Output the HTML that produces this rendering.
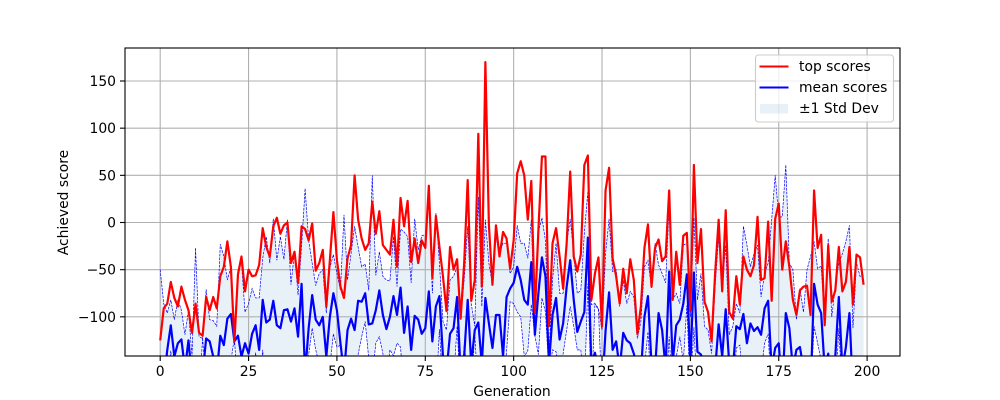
<!DOCTYPE html>
<html>
<head>
<meta charset="utf-8">
<style>
html,body{margin:0;padding:0;background:#fff;width:1000px;height:400px;overflow:hidden;}
svg{display:block;}
text{font-family:"DejaVu Sans","Liberation Sans",sans-serif;font-size:13.9px;fill:#000;}
</style>
</head>
<body>
<svg id="chart" width="1000" height="400" viewBox="0 0 1000 400" xmlns="http://www.w3.org/2000/svg">
<defs><clipPath id="plot-clip"><rect x="125" y="48" width="775" height="308"></rect></clipPath></defs>
<g id="fill-layer" clip-path="url(#plot-clip)"></g>
<g id="grid-layer"></g>
<g id="line-layer" clip-path="url(#plot-clip)"></g>
<rect x="125" y="48" width="775" height="308" fill="none" stroke="#000" stroke-width="1.1"></rect>
<g id="tick-layer"></g>
<text x="512" y="396" text-anchor="middle">Generation</text>
<text transform="translate(68,202.5) rotate(-90)" text-anchor="middle">Achieved score</text>
<g>
<rect x="755.5" y="55" width="138" height="67" rx="3" ry="3" fill="#fff" fill-opacity="0.8" stroke="#ccc" stroke-width="1.1"></rect>
<line x1="759.5" y1="66.5" x2="788.5" y2="66.5" stroke="#f00" stroke-width="2.08"></line>
<text x="799" y="71">top scores</text>
<line x1="759.5" y1="87.5" x2="788.5" y2="87.5" stroke="#00f" stroke-width="2.08"></line>
<text x="799" y="92">mean scores</text>
<rect x="760" y="104" width="28" height="9.5" fill="#1f77b4" fill-opacity="0.1"></rect>
<text x="799" y="113">±1 Std Dev</text>
</g>
</svg>
<script>
const xTicks = [0, 25, 50, 75, 100, 125, 150, 175, 200];
const yTicks = [-100, -50, 0, 50, 100, 150];
const topScores = [
-125,-91,-86,-63,-80,-89,-68,-82,-93,-117,
-86,-117,-120,-79,-93,-79,-91,-57,-47,-20,
-47,-126,-55,-36,-73,-50,-57,-56,-45,-6,
-26,-36,-4,5,-12,-3,0,-43,-31,-64,
-4,-7,-19,-1,-51,-43,-29,-89,-40,11,
-40,-68,-80,-38,-24,50,3,-17,-29,-22,
22,-12,12,-24,-29,-34,3,-47,26,-4,
23,-42,-17,-43,-19,-27,39,-59,7,-26,
-57,-94,-26,-50,-39,-102,-43,45,-83,-61,
94,-68,170,-3,-66,-3,-36,-10,-17,-49,
-19,52,65,50,3,44,-96,-8,70,70,
-110,-22,-6,-36,-70,-22,54,-36,-52,-34,
61,71,-82,-54,-37,-110,34,58,-38,-57,
-86,-49,-75,-39,-61,-118,-89,-27,-2,-68,
-27,-18,-41,-36,34,-82,-31,-66,-14,-11,
-93,61,-43,-7,-84,-95,-126,-54,3,-73,
13,-95,-102,-57,-87,-36,-50,-57,-45,6,
-61,-59,1,-83,4,20,-50,-20,-47,-82,
-98,-72,-68,-67,-98,34,-27,-13,-109,-24,
-84,-72,-26,-73,-63,-26,-87,-34,-37,-66];
const meanScores = [
-185,-170,-135,-109,-142,-128,-124,-155,-125,-165,
-170,-175,-160,-123,-126,-142,-160,-120,-130,-102,
-97,-126,-120,-142,-128,-139,-118,-109,-135,-82,
-106,-103,-83,-109,-112,-93,-92,-105,-91,-121,
-65,-160,-112,-77,-103,-109,-100,-142,-100,-75,
-93,-128,-160,-114,-102,-114,-83,-84,-75,-108,
-107,-93,-72,-98,-113,-100,-78,-98,-69,-117,
-89,-135,-99,-103,-118,-112,-73,-126,-89,-78,
-142,-158,-118,-112,-79,-160,-142,-82,-150,-114,
-106,-150,-80,-107,-133,-98,-98,-142,-79,-70,
-64,-47,-61,-82,-87,-42,-119,-75,-37,-57,
-150,-98,-80,-124,-107,-68,-40,-82,-116,-105,
-95,-16,-156,-138,-155,-180,-115,-74,-135,-126,
-155,-117,-125,-128,-139,-155,-160,-100,-78,-150,
-156,-96,-114,-155,-52,-148,-109,-103,-86,-55,
-150,-53,-137,-140,-155,-165,-180,-156,-108,-142,
-92,-150,-155,-110,-113,-97,-128,-107,-115,-111,
-119,-91,-83,-155,-133,-128,-180,-96,-112,-155,
-135,-132,-155,-175,-180,-65,-87,-96,-155,-139,
-175,-142,-79,-155,-132,-96,-180,-170,-175,-170];
const upperBand = [
-50,-86,-96,-82,-103,-82,-93,-119,-93,-142,
-27,-121,-123,-71,-103,-104,-110,-23,-36,-61,
-47,-130,-50,-43,-95,-86,-70,-80,-80,-38,
-15,-43,4,-40,-15,-39,3,-66,-31,-77,
-25,36,-19,-43,-67,-54,-50,-96,-48,-34,
-54,-72,8,-61,-33,-4,-26,-47,-44,-72,
50,-56,-31,-57,-61,-62,-15,-68,-7,-10,
-15,-64,4,-29,-14,-13,27,-75,10,-43,
-105,-114,-61,-57,-47,-103,-61,-4,-86,-110,
27,-89,3,-43,-66,-15,-33,-22,-22,-54,
-47,-3,-22,-22,-38,3,-118,-10,5,-19,
-139,-61,-22,-75,-75,-22,4,-33,-75,-72,
-11,33,-87,-86,-91,-114,-33,4,-52,-50,
-89,-61,-86,-73,-79,-123,-105,-47,-40,-70,
-22,-45,-54,-64,17,-82,-75,-86,-24,-22,
-100,5,-82,-54,-110,-114,-139,-68,-15,-68,
-24,-119,-110,-86,-96,-4,-24,-47,-33,-24,
-79,-54,-43,3,50,6,6,61,-43,-50,
-103,-70,-95,-50,-36,-20,-49,-46,-106,-17,
-100,-68,-43,-33,-20,-3,-112,-43,-57,-56];
const lowerBand = [
-185,-185,-175,-136,-180,-175,-155,-185,-157,-185,
-185,-185,-122,-175,-150,-180,-185,-185,-185,-143,
-147,-122,-185,-185,-160,-185,-166,-138,-185,-135,
-185,-163,-162,-178,-185,-147,-181,-144,-151,-165,
-175,-185,-140,-112,-135,-150,-150,-185,-152,-118,
-132,-130,-185,-167,-171,-185,-140,-121,-105,-144,
-164,-128,-121,-139,-165,-135,-141,-128,-132,-185,
-163,-185,-185,-177,-182,-185,-173,-177,-185,-113,
-179,-185,-175,-167,-110,-185,-130,-160,-185,-118,
-185,-185,-163,-171,-185,-181,-163,-185,-136,-84,
-86,-95,-100,-142,-136,-87,-120,-140,-80,-95,
-161,-135,-137,-173,-139,-114,-89,-110,-135,-135,
-179,-65,-185,-86,-93,-185,-185,-152,-185,-185,
-185,-173,-164,-183,-185,-185,-185,-153,-116,-185,
-185,-147,-174,-185,-121,-185,-143,-121,-148,-88,
-185,-111,-185,-185,-185,-185,-185,-185,-185,-185,
-160,-181,-185,-133,-130,-185,-185,-167,-185,-185,
-159,-128,-118,-185,-185,-185,-185,-185,-181,-185,
-167,-185,-185,-185,-185,-110,-128,-146,-185,-185,
-185,-185,-112,-185,-185,-185,-185,-185,-185,-185];

const NS = 'http://www.w3.org/2000/svg';
const xScale = g => 160.2 + 3.5345 * g;
const yScale = v => 222.5 - 0.9433 * v;
const fmtY = v => String(v).replace('-', '\u2212');

function make(tag, attrs, parent) {
  const el = document.createElementNS(NS, tag);
  for (const k in attrs) el.setAttribute(k, attrs[k]);
  parent.appendChild(el);
  return el;
}
function linePoints(values) {
  return values.map((v, i) => xScale(i).toFixed(2) + ',' + yScale(v).toFixed(2)).join(' ');
}

const fillLayer = document.getElementById('fill-layer');
const gridLayer = document.getElementById('grid-layer');
const lineLayer = document.getElementById('line-layer');
const tickLayer = document.getElementById('tick-layer');

const bandPts = upperBand.map((v, i) => xScale(i).toFixed(2) + ',' + yScale(v).toFixed(2))
  .concat(lowerBand.map((v, i) => xScale(i).toFixed(2) + ',' + yScale(v).toFixed(2)).reverse())
  .join(' ');
const band = make('polygon', {points: bandPts, fill: '#1f77b4', 'fill-opacity': 0.1, stroke: 'none'}, fillLayer);



xTicks.forEach(t => {
  const x = xScale(t);
  const g = make('line', {x1: x, x2: x, y1: 48, y2: 356, stroke: '#b0b0b0', 'stroke-width': 1.1}, gridLayer);
  
  
  const m = make('line', {x1: x, x2: x, y1: 356, y2: 361, stroke: '#000', 'stroke-width': 1.1}, tickLayer);
  
  
  const l = make('text', {x: x, y: 376, 'text-anchor': 'middle'}, tickLayer);
  
  
  l.textContent = String(t);
});
yTicks.forEach(t => {
  const y = yScale(t);
  const g = make('line', {x1: 125, x2: 900, y1: y, y2: y, stroke: '#b0b0b0', 'stroke-width': 1.1}, gridLayer);
  
  
  const m = make('line', {x1: 120, x2: 125, y1: y, y2: y, stroke: '#000', 'stroke-width': 1.1}, tickLayer);
  
  
  const l = make('text', {x: 116, y: y + 5, 'text-anchor': 'end'}, tickLayer);
  
  
  l.textContent = fmtY(t);
});

const upperLine = make('polyline', {points: linePoints(upperBand), fill: 'none', stroke: '#00f', 'stroke-width': 0.7, 'stroke-dasharray': '2.6 1.1'}, lineLayer);


const lowerLine = make('polyline', {points: linePoints(lowerBand), fill: 'none', stroke: '#00f', 'stroke-width': 0.7, 'stroke-dasharray': '2.6 1.1'}, lineLayer);


const meanLine = make('polyline', {points: linePoints(meanScores), fill: 'none', stroke: '#00f', 'stroke-width': 2.2, 'stroke-linejoin': 'round'}, lineLayer);


const topLine = make('polyline', {points: linePoints(topScores), fill: 'none', stroke: '#f00', 'stroke-width': 2.2, 'stroke-linejoin': 'round'}, lineLayer);


</script>
</body>
</html>
